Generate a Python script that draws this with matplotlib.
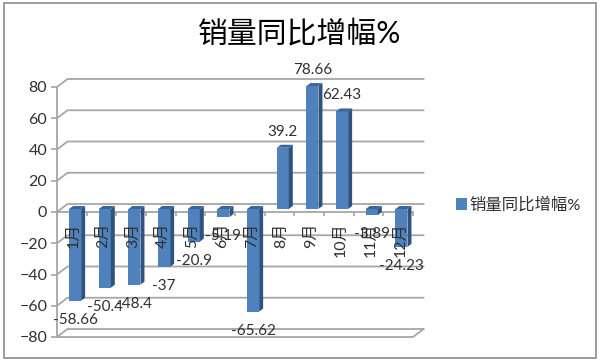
import matplotlib
matplotlib.use('Agg')
import matplotlib.pyplot as plt
import numpy as np

plt.rcParams['font.family'] = ['Lato', 'Noto Sans CJK SC', 'DejaVu Sans']

months = ['1月', '2月', '3月', '4月', '5月', '6月', '7月', '8月', '9月', '10月', '11月', '12月']
growth = [-58.66, -50.4, -48.4, -37, -20.9, -5.19, -65.62, 39.2, 78.66, 62.43, -3.89, -24.23]
y_ticks = [-80, -60, -40, -20, 0, 20, 40, 60, 80]
series_name = '销量同比增幅%'

W, H = 600, 361
GRAY = '#A6A6A6'
TEXT = '#303030'

fig = plt.figure(figsize=(W / 100, H / 100), dpi=100, facecolor='white')
# plot area in pixels: x 57-413, y 87-337
ax = fig.add_axes([57 / W, 1 - 337 / H, 356 / W, 250 / H])
ax.set_xlim(0, 12)
ax.set_ylim(-80, 80)
ax.patch.set_visible(False)

# pixel sizes of the fake 3d look, converted to data units
px_x = 12 / 356
px_y = 160 / 250
wall_dx, wall_dy = 10.5 * px_x, 8 * px_y
bar_dx, bar_dy = 3.3 * px_x, 3 * px_y
side_dx, side_dy = 4 * px_x, 3 * px_y
bar_w = 12 * px_x

# back wall gridlines and the diagonals on the side wall
for t in y_ticks:
    ax.plot([0, wall_dx, 12 + wall_dx], [t, t + wall_dy, t + wall_dy],
            color=GRAY, lw=1.3, clip_on=False, zorder=1)
# floor
ax.plot([0, 12, 12 + wall_dx], [-80, -80, -80 + wall_dy], color=GRAY, lw=1.3, clip_on=False, zorder=1)

# bars: front face from ax.bar, side and top faces follow each value
x = np.arange(len(months)) + 0.5 + bar_dx
y0 = bar_dy
bars = ax.bar(x, growth, width=bar_w, bottom=y0, color='#4F81BD', zorder=3, clip_on=False)
for xi, v in zip(x, growth):
    left, right = xi - bar_w / 2, xi + bar_w / 2
    low, high = min(y0, y0 + v), max(y0, y0 + v)
    ax.fill([right, right + side_dx, right + side_dx, right],
            [low, low + side_dy, high + side_dy, high], color='#2F5380', lw=0, zorder=3, clip_on=False)
    ax.fill([left, left + side_dx, right + side_dx, right],
            [high, high + side_dy, high + side_dy, high], color='#3A6596', lw=0, zorder=3, clip_on=False)

# data labels
for xi, v in zip(x, growth):
    off = 16 if v > 0 else -19
    ax.annotate(f'{v:g}', (xi, y0 + v), xytext=(0, off * 0.72), textcoords='offset points',
                ha='center', va='center', fontsize=11, color=TEXT, zorder=5, annotation_clip=False)

# axes
for s in ['top', 'right']:
    ax.spines[s].set_visible(False)
ax.spines['bottom'].set_position(('data', 0))
for s in ['left', 'bottom']:
    ax.spines[s].set_color(GRAY)
    ax.spines[s].set_linewidth(1.3)
    ax.spines[s].set_zorder(2)
ax.set_yticks(y_ticks)
ax.tick_params(axis='y', length=4, width=1.2, color=GRAY, labelsize=11.5, labelcolor=TEXT, pad=3)
ax.set_xticks(np.arange(0, 13))
ax.set_xticklabels([])
ax.tick_params(axis='x', which='major', length=3, width=1.2, color=GRAY, direction='out')
ax.set_xticks(np.arange(len(months)) + 0.5 + bar_dx * 0.6, minor=True)
ax.set_xticklabels(months, minor=True, rotation=90, fontsize=11.5, color=TEXT, va='top', ha='center')
ax.tick_params(axis='x', which='minor', length=0, pad=7.5)
# month labels sit on top of the bars
ax.xaxis.set_zorder(4)

# title, legend, outer frame
fig.text(300 / W, 1 - 34 / H, series_name, ha='center', va='center', fontsize=21.5, color='black')
fig.legend([bars], [series_name], loc='center left', bbox_to_anchor=(456 / W, 1 - 205 / H),
           frameon=False, fontsize=11.8, labelcolor=TEXT, handlelength=0.7, handleheight=0.7,
           handletextpad=0.1, borderpad=0, borderaxespad=0)
fig.add_artist(plt.Rectangle((4 / W, 1 - 358 / H), 592 / W, 355 / H, transform=fig.transFigure,
                             fill=False, edgecolor='#8C8C8C', lw=1.2))

fig.savefig('out.png', dpi=100)
